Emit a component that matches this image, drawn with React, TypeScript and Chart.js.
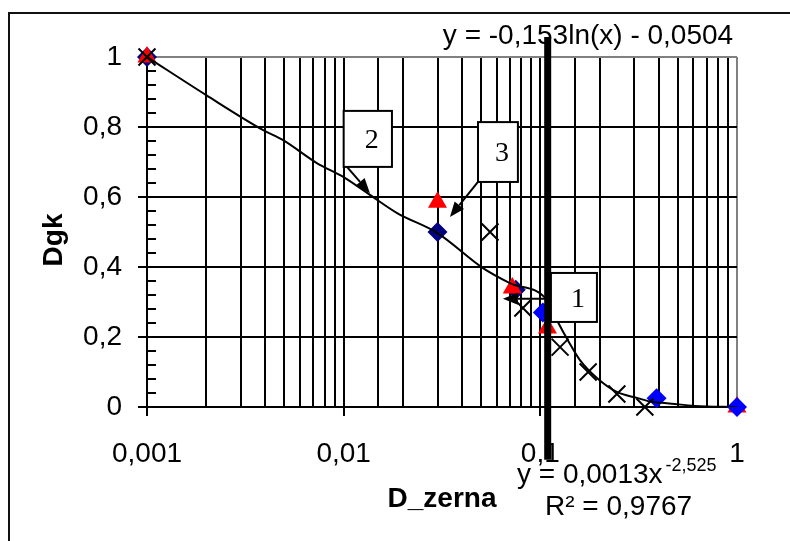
import React, { useEffect, useRef } from 'react';
import { Chart, registerables } from 'chart.js';

Chart.register(...registerables);

// ---- data ----
const NAVY_X = [0.001, 0.03, 0.075];
const NAVY_Y = [1, 0.5, 0.335];
const BLUE_X = [0.103, 0.39, 1];
const BLUE_Y = [0.27, 0.025, 0];
const RED_X = [0.001, 0.03, 0.072, 0.1087, 1];
const RED_Y = [1, 0.585, 0.34, 0.226, 0];
const CROSS_X = [0.001, 0.0555, 0.0815, 0.126, 0.175, 0.245, 0.34];
const CROSS_Y = [1, 0.5, 0.283, 0.171, 0.1, 0.037, 0];
const CURVE_X = [0.001, 0.002, 0.0039, 0.0049, 0.0073, 0.01, 0.0136, 0.0187, 0.03, 0.0511, 0.07, 0.108, 0.1228, 0.138, 0.159, 0.194, 0.245, 0.31, 0.374, 0.44, 0.611, 1];
const CURVE_Y = [1, 0.891, 0.791, 0.763, 0.697, 0.657, 0.606, 0.554, 0.497, 0.397, 0.354, 0.306, 0.243, 0.191, 0.134, 0.083, 0.043, 0.026, 0.014, 0.011, 0.003, 0];
const MARKER_X = [0.109, 0.109];
const MARKER_Y = [1.057, -0.151];

const X_TICKS = [0.001, 0.01, 0.1, 1];
const X_TICK_LABELS = ['0,001', '0,01', '0,1', '1'];
const Y_TICKS = [0, 0.2, 0.4, 0.6, 0.8, 1];
const Y_TICK_LABELS = ['0', '0,2', '0,4', '0,6', '0,8', '1'];
const Y_MINOR = [0.04, 0.08, 0.12, 0.16, 0.24, 0.28, 0.32, 0.36, 0.44, 0.48, 0.52, 0.56, 0.64, 0.68, 0.72, 0.76, 0.84, 0.88, 0.92, 0.96];

const CALLOUT_LABELS = ['1', '2', '3'];
const CALLOUT_BOX_X0 = [0.1132, 0.01, 0.0482];
const CALLOUT_BOX_X1 = [0.194, 0.0176, 0.0769];
const CALLOUT_BOX_YTOP = [0.383, 0.846, 0.814];
const CALLOUT_BOX_YBOT = [0.243, 0.686, 0.643];
const CALLOUT_FROM_X = [0.1132, 0.01, 0.0482];
const CALLOUT_FROM_Y = [0.309, 0.697, 0.643];
const CALLOUT_TIP_X = [0.0645, 0.0136, 0.0347];
const CALLOUT_TIP_Y = [0.309, 0.611, 0.543];

const EQ_LOG = 'y = -0,153ln(x) - 0,0504';
const EQ_POW = 'y = 0,0013x';
const EQ_POW_EXP = '-2,525';
const EQ_R2 = 'R² = 0,9767';
const X_TITLE = 'D_zerna';
const Y_TITLE = 'Dgk';

const SANS = '"Liberation Sans", Arial, sans-serif';
const SERIF = '"Liberation Serif", "Times New Roman", serif';

const pts = (xs: number[], ys: number[]) => xs.map((x, i) => ({ x, y: ys[i] }));
const isPow10 = (v: number) => Math.abs(Math.log10(v) - Math.round(Math.log10(v))) < 1e-6;
const near = (a: number, b: number) => Math.abs(a - b) < 1e-6;

const decor = {
  id: 'decor',
  beforeDraw(chart: any) {
    const ctx = chart.ctx;
    ctx.save();
    ctx.strokeStyle = '#111';
    ctx.lineWidth = 2;
    ctx.beginPath();
    ctx.moveTo(9, 541);
    ctx.lineTo(9, 13);
    ctx.lineTo(790, 13);
    ctx.stroke();
    ctx.restore();
  },
  beforeDatasetsDraw(chart: any) {
    const ctx = chart.ctx;
    const ys = chart.scales.y;
    const ca = chart.chartArea;
    ctx.save();
    ctx.strokeStyle = '#000';
    ctx.lineWidth = 2;
    Y_MINOR.forEach((v) => {
      const py = Math.round(ys.getPixelForValue(v));
      ctx.beginPath();
      ctx.moveTo(ca.left, py);
      ctx.lineTo(ca.left + 9, py);
      ctx.stroke();
    });
    ctx.fillStyle = '#000';
    ctx.textBaseline = 'alphabetic';
    ctx.font = `28px ${SANS}`;
    ctx.textAlign = 'center';
    ctx.fillText(EQ_LOG, 588, 44);
    ctx.textAlign = 'left';
    ctx.fillText(EQ_POW, 517, 483);
    const w = ctx.measureText(EQ_POW).width;
    ctx.font = `18px ${SANS}`;
    ctx.fillText(EQ_POW_EXP, 517 + w + 3, 471);
    ctx.font = `28px ${SANS}`;
    ctx.fillText(EQ_R2, 545, 515);
    ctx.font = `bold 28px ${SANS}`;
    ctx.textAlign = 'center';
    ctx.fillText(X_TITLE, 442, 507);
    ctx.save();
    ctx.translate(62, 240);
    ctx.rotate(-Math.PI / 2);
    ctx.fillText(Y_TITLE, 0, 0);
    ctx.restore();
    ctx.restore();
  },
  afterDatasetsDraw(chart: any) {
    const ctx = chart.ctx;
    const xs = chart.scales.x;
    const ys = chart.scales.y;
    ctx.save();
    CALLOUT_LABELS.forEach((lab, i) => {
      const x0 = xs.getPixelForValue(CALLOUT_BOX_X0[i]);
      const x1 = xs.getPixelForValue(CALLOUT_BOX_X1[i]);
      const y0 = ys.getPixelForValue(CALLOUT_BOX_YTOP[i]);
      const y1 = ys.getPixelForValue(CALLOUT_BOX_YBOT[i]);
      const fx = xs.getPixelForValue(CALLOUT_FROM_X[i]);
      const fy = ys.getPixelForValue(CALLOUT_FROM_Y[i]);
      const tx = xs.getPixelForValue(CALLOUT_TIP_X[i]);
      const ty = ys.getPixelForValue(CALLOUT_TIP_Y[i]);
      const ang = Math.atan2(ty - fy, tx - fx);
      const L = 15, H = 6;
      const bx = tx - Math.cos(ang) * L;
      const by = ty - Math.sin(ang) * L;
      ctx.strokeStyle = '#000';
      ctx.lineWidth = 2;
      ctx.beginPath();
      ctx.moveTo(fx, fy);
      ctx.lineTo(bx, by);
      ctx.stroke();
      ctx.fillStyle = '#000';
      ctx.beginPath();
      ctx.moveTo(tx, ty);
      ctx.lineTo(bx + Math.sin(ang) * H, by - Math.cos(ang) * H);
      ctx.lineTo(bx - Math.sin(ang) * H, by + Math.cos(ang) * H);
      ctx.closePath();
      ctx.fill();
      ctx.fillStyle = '#fff';
      ctx.fillRect(x0, y0, x1 - x0, y1 - y0);
      ctx.strokeRect(x0, y0, x1 - x0, y1 - y0);
      ctx.fillStyle = '#000';
      ctx.font = `28px ${SERIF}`;
      ctx.textAlign = 'center';
      ctx.textBaseline = 'middle';
      ctx.fillText(lab, (x0 + x1) / 2 + 4, (y0 + y1) / 2 + 2);
    });
    ctx.restore();
  },
};

export default function App() {
  const ref = useRef<HTMLCanvasElement>(null);
  useEffect(() => {
    Chart.defaults.font.family = SANS;
    const chart = new Chart(ref.current as HTMLCanvasElement, {
      type: 'scatter',
      data: {
        datasets: [
          {
            label: 'marker',
            data: pts(MARKER_X, MARKER_Y),
            showLine: true,
            borderColor: '#000',
            borderWidth: 7,
            pointRadius: 0,
            clip: false,
            order: 0,
          } as any,
          {
            label: 'cross',
            data: pts(CROSS_X, CROSS_Y),
            pointStyle: 'crossRot',
            pointRadius: 12,
            pointBorderColor: '#000',
            pointBorderWidth: 2,
            clip: false,
            order: 1,
          } as any,
          {
            label: 'curve',
            data: pts(CURVE_X, CURVE_Y),
            showLine: true,
            borderColor: '#000',
            borderWidth: 2,
            pointRadius: 0,
            cubicInterpolationMode: 'monotone',
            order: 2,
          } as any,
          {
            label: 'blue',
            data: pts(BLUE_X, BLUE_Y),
            pointStyle: 'rectRot',
            pointRadius: 10,
            pointBackgroundColor: '#0000ff',
            pointBorderWidth: 0,
            clip: false,
            order: 3,
          } as any,
          {
            label: 'red',
            data: pts(RED_X, RED_Y),
            pointStyle: 'triangle',
            pointRadius: 11,
            pointBackgroundColor: '#ff0000',
            pointBorderWidth: 0,
            clip: false,
            order: 4,
          } as any,
          {
            label: 'navy',
            data: pts(NAVY_X, NAVY_Y),
            pointStyle: 'rectRot',
            pointRadius: 10,
            pointBackgroundColor: '#000080',
            pointBorderWidth: 0,
            clip: false,
            order: 5,
          } as any,
        ],
      },
      options: {
        responsive: false,
        animation: false,
        events: [],
        layout: { padding: { left: 0, right: 53, top: 57, bottom: 0 } },
        plugins: { legend: { display: false }, tooltip: { enabled: false } },
        scales: {
          x: {
            type: 'logarithmic',
            min: 0.001,
            max: 1,
            afterFit: (s: any) => { s.height = 134; s.paddingLeft = 0; s.paddingRight = 0; },
            border: { display: true, color: '#000', width: 2 },
            grid: {
              color: (c: any) => (c.tick && near(c.tick.value, 1) ? '#808080' : '#000'),
              lineWidth: 2,
              tickLength: 9,
              tickColor: (c: any) => (c.tick && isPow10(c.tick.value) && !near(c.tick.value, 1) ? '#000' : 'rgba(0,0,0,0)'),
              tickWidth: 2,
            },
            ticks: {
              autoSkip: false,
              maxRotation: 0,
              padding: 21,
              color: '#000',
              font: { size: 28, family: SANS },
              callback: (v: any) => {
                const i = X_TICKS.findIndex((t) => near(Math.log10(t), Math.log10(Number(v))));
                return i >= 0 ? X_TICK_LABELS[i] : '';
              },
            },
          },
          y: {
            type: 'linear',
            min: 0,
            max: 1,
            afterFit: (s: any) => { s.width = 147; s.paddingTop = 0; s.paddingBottom = 0; },
            border: { display: true, color: '#000', width: 2 },
            grid: {
              color: (c: any) => (c.tick && near(c.tick.value, 1) ? '#808080' : '#000'),
              lineWidth: 2,
              tickLength: 9,
              tickColor: '#000',
              tickWidth: 2,
            },
            ticks: {
              stepSize: 0.2,
              padding: 16,
              color: '#000',
              font: { size: 28, family: SANS },
              callback: (v: any) => {
                const i = Y_TICKS.findIndex((t) => near(t, Number(v)));
                return i >= 0 ? Y_TICK_LABELS[i] : '';
              },
            },
          },
        },
      },
      plugins: [decor],
    });
    return () => chart.destroy();
  }, []);
  return (
    <div style={{ position: 'fixed', left: 0, top: 0, width: 790, height: 541, background: '#fff' }}>
      <canvas ref={ref} width={790} height={541} style={{ display: 'block', width: 790, height: 541 }} />
    </div>
  );
}
